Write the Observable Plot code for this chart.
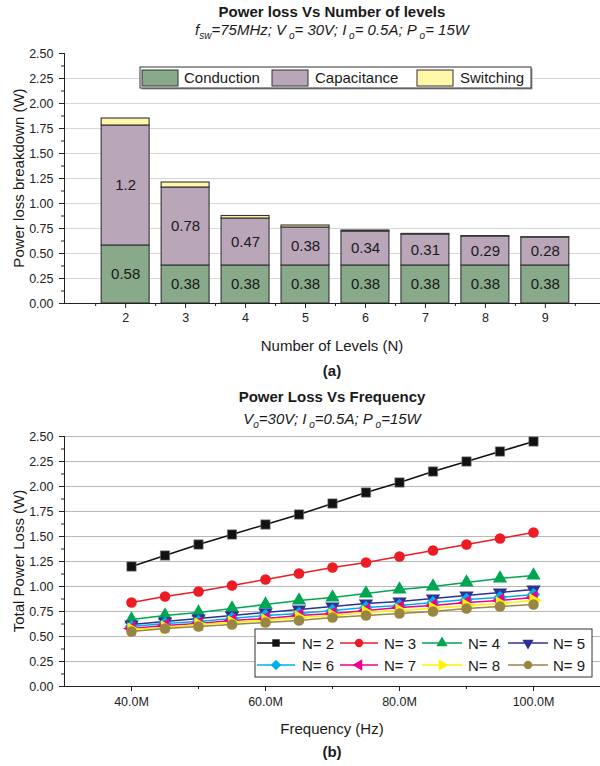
<!DOCTYPE html>
<html><head><meta charset="utf-8">
<script src="https://cdn.jsdelivr.net/npm/d3@7"></script>
<script src="https://cdn.jsdelivr.net/npm/@observablehq/plot@0.6"></script>
<style>
body{margin:0;background:#fff;font-family:"Liberation Sans",Arial,Helvetica,sans-serif;}
#root{position:relative;width:600px;height:766px;overflow:hidden;background:#fff;}
#root svg{position:absolute;left:0;}
.t{position:absolute;left:64px;width:536px;text-align:center;color:#1a1a1a;white-space:nowrap;line-height:18px;font-size:15px;}
.b{font-weight:bold;}
.i{font-style:italic;}
.i sub{font-size:10px;vertical-align:-4px;line-height:0;}
.yl{position:absolute;width:300px;text-align:center;font-size:15px;line-height:18px;color:#1a1a1a;transform:rotate(-90deg);white-space:nowrap;}
</style>
</head><body>
<div id="root"></div>
<script>
// ---------- (a) data ----------
const levels = [2, 3, 4, 5, 6, 7, 8, 9];
const conduction = [0.58, 0.38, 0.38, 0.38, 0.38, 0.38, 0.38, 0.38];
const capacitance = [1.2, 0.78, 0.47, 0.38, 0.34, 0.31, 0.29, 0.28];
const switching = [0.07, 0.05, 0.025, 0.02, 0.01, 0.006, 0.004, 0.003];
const lossTypes = ["Conduction", "Capacitance", "Switching"];
const lossColors = ["#88a98a", "#b9a6b9", "#fff6a8"];
const yTicksA = [0, 0.25, 0.5, 0.75, 1, 1.25, 1.5, 1.75, 2, 2.25, 2.5];

// ---------- (b) data ----------
const freqMHz = [40, 45, 50, 55, 60, 65, 70, 75, 80, 85, 90, 95, 100];
const lossN2 = [1.20, 1.31, 1.42, 1.52, 1.62, 1.72, 1.83, 1.94, 2.04, 2.15, 2.25, 2.35, 2.45];
const lossN3 = [0.84, 0.90, 0.95, 1.01, 1.07, 1.13, 1.19, 1.24, 1.30, 1.36, 1.42, 1.48, 1.54];
const lossN4 = [0.67, 0.71, 0.74, 0.78, 0.82, 0.86, 0.89, 0.93, 0.97, 1.00, 1.04, 1.08, 1.11];
const lossN5 = [0.62, 0.65, 0.68, 0.71, 0.74, 0.77, 0.80, 0.83, 0.85, 0.88, 0.91, 0.94, 0.97];
const lossN6 = [0.60, 0.63, 0.65, 0.68, 0.71, 0.73, 0.76, 0.79, 0.81, 0.84, 0.87, 0.89, 0.92];
const lossN7 = [0.58, 0.61, 0.63, 0.66, 0.68, 0.71, 0.73, 0.76, 0.79, 0.81, 0.84, 0.86, 0.89];
const lossN8 = [0.57, 0.59, 0.62, 0.64, 0.66, 0.69, 0.71, 0.74, 0.76, 0.78, 0.81, 0.83, 0.86];
const lossN9 = [0.55, 0.58, 0.60, 0.62, 0.64, 0.66, 0.69, 0.71, 0.73, 0.75, 0.78, 0.80, 0.82];
const seriesNames = ["N= 2", "N= 3", "N= 4", "N= 5", "N= 6", "N= 7", "N= 8", "N= 9"];
const seriesColors = ["#111111", "#ed1c24", "#00a651", "#2e3192", "#00aeef", "#ec008c", "#fff200", "#998544"];
const xMajorB = [40, 60, 80, 100];
const xMinorB = [50, 70, 90];

// ---------- symbols ----------
const s3 = Math.sqrt(3);
const triDown = {draw(c, size){const y=-Math.sqrt(size/(s3*3)); c.moveTo(0,-2*y); c.lineTo(s3*y,y); c.lineTo(-s3*y,y); c.closePath();}};
const triLeft = {draw(c, size){const y=-Math.sqrt(size/(s3*3)); c.moveTo(2*y,0); c.lineTo(-y,s3*y); c.lineTo(-y,-s3*y); c.closePath();}};
const triRight = {draw(c, size){const y=-Math.sqrt(size/(s3*3)); c.moveTo(-2*y,0); c.lineTo(y,s3*y); c.lineTo(y,-s3*y); c.closePath();}};
const diamondSq = {draw(c, size){const r=Math.sqrt(size/2); c.moveTo(0,-r); c.lineTo(r,0); c.lineTo(0,r); c.lineTo(-r,0); c.closePath();}};
const seriesSymbols = [d3.symbolSquare, d3.symbolCircle, d3.symbolTriangle, triDown, diamondSq, triLeft, triRight, d3.symbolCircle];
const seriesValues = [lossN2, lossN3, lossN4, lossN5, lossN6, lossN7, lossN8, lossN9];

const root = document.getElementById("root");
const FONT = '"Liberation Sans", Arial, Helvetica, sans-serif';

// ---------- chart (a) ----------
const segs = [];
const segLabels = [];
levels.forEach((n, i) => {
  const c = conduction[i], p = capacitance[i], s = switching[i];
  segs.push({N: n, type: "Conduction", y1: 0, y2: c});
  segs.push({N: n, type: "Capacitance", y1: c, y2: c + p});
  segs.push({N: n, type: "Switching", y1: c + p, y2: c + p + s});
  segLabels.push({N: n, y: c / 2, text: String(c)});
  segLabels.push({N: n, y: c + p / 2, text: String(p)});
});
const yMinorA = d3.range(0.125, 2.5, 0.25);
const xMinorA = d3.range(1.5, 10, 1);
const x0A = 0.98;

const chartA = Plot.plot({
  width: 600, height: 340,
  marginTop: 53, marginBottom: 37, marginLeft: 64, marginRight: 0,
  style: {background: "transparent", fontFamily: FONT, fontSize: "12.5px", color: "#222"},
  x: {type: "linear", domain: [x0A, 9.92], axis: null},
  y: {domain: [0, 2.5], axis: null},
  color: {domain: lossTypes, range: lossColors},
  marks: [
    Plot.gridY({ticks: yTicksA.filter(v => v > 0 && v < 2.5), stroke: "#d6d6d6", strokeOpacity: 1, strokeWidth: 1}),
    Plot.rect(segs, {x1: d => d.N - 0.4, x2: d => d.N + 0.4, y1: "y1", y2: "y2", fill: "type", stroke: "#333", strokeWidth: 1.1}),
    Plot.text(segLabels, {x: "N", y: "y", text: "text", fontSize: 15, fill: "#1a1a1a"}),
    Plot.ruleX([x0A], {stroke: "#222", strokeWidth: 1}),
    Plot.ruleY([0], {stroke: "#222", strokeWidth: 1}),
    Plot.axisY({ticks: yTicksA, tickSize: 5, tickPadding: 6, tickFormat: d3.format(".2f"), label: null}),
    Plot.axisY({ticks: yMinorA, tickSize: 3, tickFormat: () => "", label: null}),
    Plot.axisX({ticks: levels, tickSize: 5, tickPadding: 5, tickFormat: d => String(d), label: null}),
    Plot.axisX({ticks: xMinorA, tickSize: 3, tickFormat: () => "", label: null})
  ]
});
chartA.style.top = "0px";
root.appendChild(chartA);

// legend (a)
{
  const g = d3.select(chartA).append("g").attr("font-family", FONT).attr("font-size", 15).attr("text-anchor", "start");
  g.append("rect").attr("x", 141.5).attr("y", 68.5).attr("width", 391).attr("height", 21).attr("fill", "#999");
  g.append("rect").attr("x", 140).attr("y", 67).attr("width", 391).attr("height", 21).attr("fill", "#fff").attr("stroke", "#333");
  const sx = [142, 272, 417], tx = [184, 315, 460];
  lossTypes.forEach((t, i) => {
    g.append("rect").attr("x", sx[i]).attr("y", 70).attr("width", 36).attr("height", 16)
      .attr("fill", lossColors[i]).attr("stroke", "#333").attr("stroke-width", 1);
    g.append("text").attr("x", tx[i]).attr("y", 83).attr("text-anchor", "start").attr("fill", "#1a1a1a").text(t);
  });
}

// ---------- chart (b) ----------
const rows = [];
seriesNames.forEach((name, k) => {
  freqMHz.forEach((f, i) => rows.push({series: name, k, f: f * 1e6, v: seriesValues[k][i]}));
});
const yMinorB = d3.range(0.125, 2.5, 0.25);
const marksB = [
  Plot.gridY({ticks: yTicksA.filter(v => v > 0), stroke: "#b8b8b8", strokeOpacity: 1, strokeWidth: 1}),
  Plot.ruleX([30e6], {stroke: "#222", strokeWidth: 1}),
  Plot.ruleY([0], {stroke: "#222", strokeWidth: 1}),
  Plot.axisY({ticks: yTicksA, tickSize: 5, tickPadding: 6, tickFormat: d3.format(".2f"), label: null}),
  Plot.axisY({ticks: yMinorB, tickSize: 3, tickFormat: () => "", label: null}),
  Plot.axisX({ticks: xMajorB.map(v => v * 1e6), tickSize: 5, tickPadding: 6, tickFormat: d => (d / 1e6).toFixed(1) + "M", label: null}),
  Plot.axisX({ticks: xMinorB.map(v => v * 1e6), tickSize: 3, tickFormat: () => "", label: null})
];
seriesNames.forEach((name, k) => {
  const data = rows.filter(d => d.k === k);
  marksB.push(Plot.line(data, {x: "f", y: "v", stroke: seriesColors[k], strokeWidth: 1.5}));
  marksB.push(Plot.dot(data, {x: "f", y: "v", symbol: seriesSymbols[k], r: 5.3, fill: seriesColors[k],
    stroke: k === 0 ? "#888" : "none", strokeWidth: 0.6}));
});
const chartB = Plot.plot({
  width: 600, height: 330,
  marginTop: 46, marginBottom: 34, marginLeft: 64, marginRight: 0,
  style: {background: "transparent", fontFamily: FONT, fontSize: "12.5px", color: "#222"},
  x: {type: "linear", domain: [30e6, 110e6], axis: null},
  y: {domain: [0, 2.5], axis: null},
  marks: marksB
});
chartB.style.top = "390px";
root.appendChild(chartB);

// legend (b)
{
  const g = d3.select(chartB).append("g").attr("font-family", FONT).attr("font-size", 15).attr("text-anchor", "start");
  g.append("rect").attr("x", 255).attr("y", 239).attr("width", 337).attr("height", 48).attr("fill", "#fff").attr("stroke", "#333");
  const lx = [[257, 295], [340, 378], [422, 462], [508, 548]];
  const tx = [302, 384, 468, 553];
  const ry = [253, 275];
  seriesNames.forEach((name, k) => {
    const col = k % 4, row = Math.floor(k / 4);
    const y = ry[row];
    g.append("line").attr("x1", lx[col][0]).attr("x2", lx[col][1]).attr("y1", y).attr("y2", y)
      .attr("stroke", seriesColors[k]).attr("stroke-width", 1.5);
    g.append("path").attr("d", d3.symbol().type(seriesSymbols[k]).size(55)())
      .attr("transform", `translate(${(lx[col][0] + lx[col][1]) / 2},${y})`).attr("fill", seriesColors[k]);
    g.append("text").attr("x", tx[col]).attr("y", y + 5.5).attr("text-anchor", "start").attr("fill", "#1a1a1a").text(name);
  });
}

// ---------- texts ----------
function addText(html, top, cls) {
  const d = document.createElement("div");
  d.className = "t " + cls;
  d.style.top = top + "px";
  d.innerHTML = html;
  root.appendChild(d);
}
addText("Power loss Vs Number of levels", 3, "b");
addText("f<sub>sw</sub>=75MHz; V<sub>&nbsp;o</sub>= 30V; I<sub>&nbsp;o</sub>= 0.5A; P<sub>&nbsp;o</sub>= 15W", 21, "i");
addText("Number of Levels (N)", 337, "");
addText("(a)", 362, "b");
addText("Power Loss Vs Frequency", 388, "b");
addText("V<sub>o</sub>=30V; I<sub>&nbsp;o</sub>=0.5A; P<sub>&nbsp;o</sub>=15W", 410, "i");
addText("Frequency (Hz)", 720, "");
addText("(b)", 743, "b");

function addYLabel(text, cx, cy) {
  const d = document.createElement("div");
  d.className = "yl";
  d.style.left = (cx - 150) + "px";
  d.style.top = (cy - 9) + "px";
  d.textContent = text;
  root.appendChild(d);
}
addYLabel("Power loss breakdown (W)", 19, 178);
addYLabel("Total Power Loss (W)", 19, 561);
</script>
</body></html>
